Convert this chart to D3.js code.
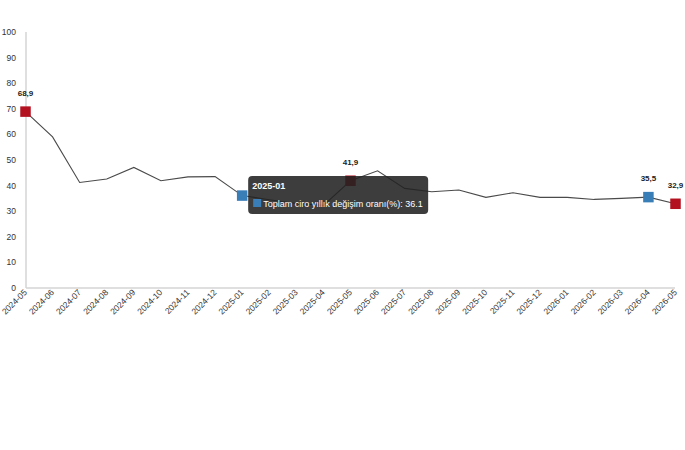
<!DOCTYPE html>
<html><head><meta charset="utf-8">
<script src="https://cdn.jsdelivr.net/npm/d3@7"></script>
<style>body{margin:0;background:#fff;font-family:Arial,"Liberation Sans",sans-serif}</style>
</head><body>
<svg id="c" width="685" height="450"></svg>
<script>
const months = ["2024-05","2024-06","2024-07","2024-08","2024-09","2024-10","2024-11","2024-12","2025-01","2025-02","2025-03","2025-04","2025-05","2025-06","2025-07","2025-08","2025-09","2025-10","2025-11","2025-12","2026-01","2026-02","2026-03","2026-04","2026-05"];
const values = [68.9,59.0,41.2,42.6,47.1,41.9,43.4,43.5,36.1,34.5,33.0,32.3,41.9,45.8,38.9,37.6,38.3,35.4,37.2,35.4,35.4,34.6,35.0,35.5,32.9];
const yTicks = [0,10,20,30,40,50,60,70,80,90,100];
const highlights = [
  {i:0, label:"68,9", color:"#b3111f"},
  {i:8, label:null, color:"#3a7eb8"},
  {i:12, label:"41,9", color:"#b3111f"},
  {i:23, label:"35,5", color:"#3a7eb8"},
  {i:24, label:"32,9", color:"#b3111f"}
];
const seriesName = "Toplam ciro yıllık değişim oranı(%)";
const tipIndex = 8;

const svg = d3.select("#c");
const x = d3.scalePoint().domain(months).range([25.5, 675.5]);
const y = d3.scaleLinear().domain([0,100]).range([288, 32]);

svg.append("line").attr("x1",26).attr("x2",26).attr("y1",32).attr("y2",288).attr("stroke","#d4d4d4").attr("stroke-width",1.5);
svg.append("line").attr("x1",26).attr("x2",675).attr("y1",288).attr("y2",288).attr("stroke","#d4d4d4").attr("stroke-width",1.5);

svg.append("g").selectAll("text").data(yTicks).join("text")
  .attr("x",16).attr("y",d=>y(d)+3).attr("text-anchor","end")
  .attr("font-size",8.5).attr("fill","#333").text(d=>d);

svg.append("g").selectAll("text").data(months).join("text")
  .attr("transform",d=>`translate(${x(d)+2},${293}) rotate(-45)`)
  .attr("text-anchor","end").attr("font-size",8.5).attr("fill","#333").text(d=>d);

const data = months.map((m,i)=>({m,v:values[i]}));
svg.append("path").datum(data)
  .attr("d", d3.line().x(d=>x(d.m)).y(d=>y(d.v)))
  .attr("fill","none").attr("stroke","#4a4a4a").attr("stroke-width",1.1);

const s = 10.5;
svg.append("g").selectAll("rect").data(highlights).join("rect")
  .attr("x",d=>x(months[d.i])-s/2).attr("y",d=>y(values[d.i])-s/2)
  .attr("width",s).attr("height",s).attr("fill",d=>d.color);

svg.append("g").selectAll("text").data(highlights.filter(d=>d.label)).join("text")
  .attr("x",d=>x(months[d.i])).attr("y",d=>y(values[d.i])-16)
  .attr("text-anchor","middle").attr("font-size",8).attr("font-weight","bold").attr("fill","#222")
  .text(d=>d.label);

const tx = x(months[tipIndex]) + 6, ty = 176;
const tip = svg.append("g").attr("transform",`translate(${tx},${ty})`);
tip.append("rect").attr("width",180).attr("height",38).attr("rx",4)
  .attr("fill","#222").attr("fill-opacity",0.88);
tip.append("text").attr("x",4).attr("y",13).attr("font-size",9).attr("font-weight","bold").attr("fill","#fff").text(months[tipIndex]);
tip.append("rect").attr("x",5).attr("y",23).attr("width",8).attr("height",8).attr("fill","#3a7eb8");
tip.append("text").attr("x",15).attr("y",31).attr("font-size",9).attr("fill","#fff")
  .text(`${seriesName}: ${values[tipIndex]}`);
</script>
</body></html>
